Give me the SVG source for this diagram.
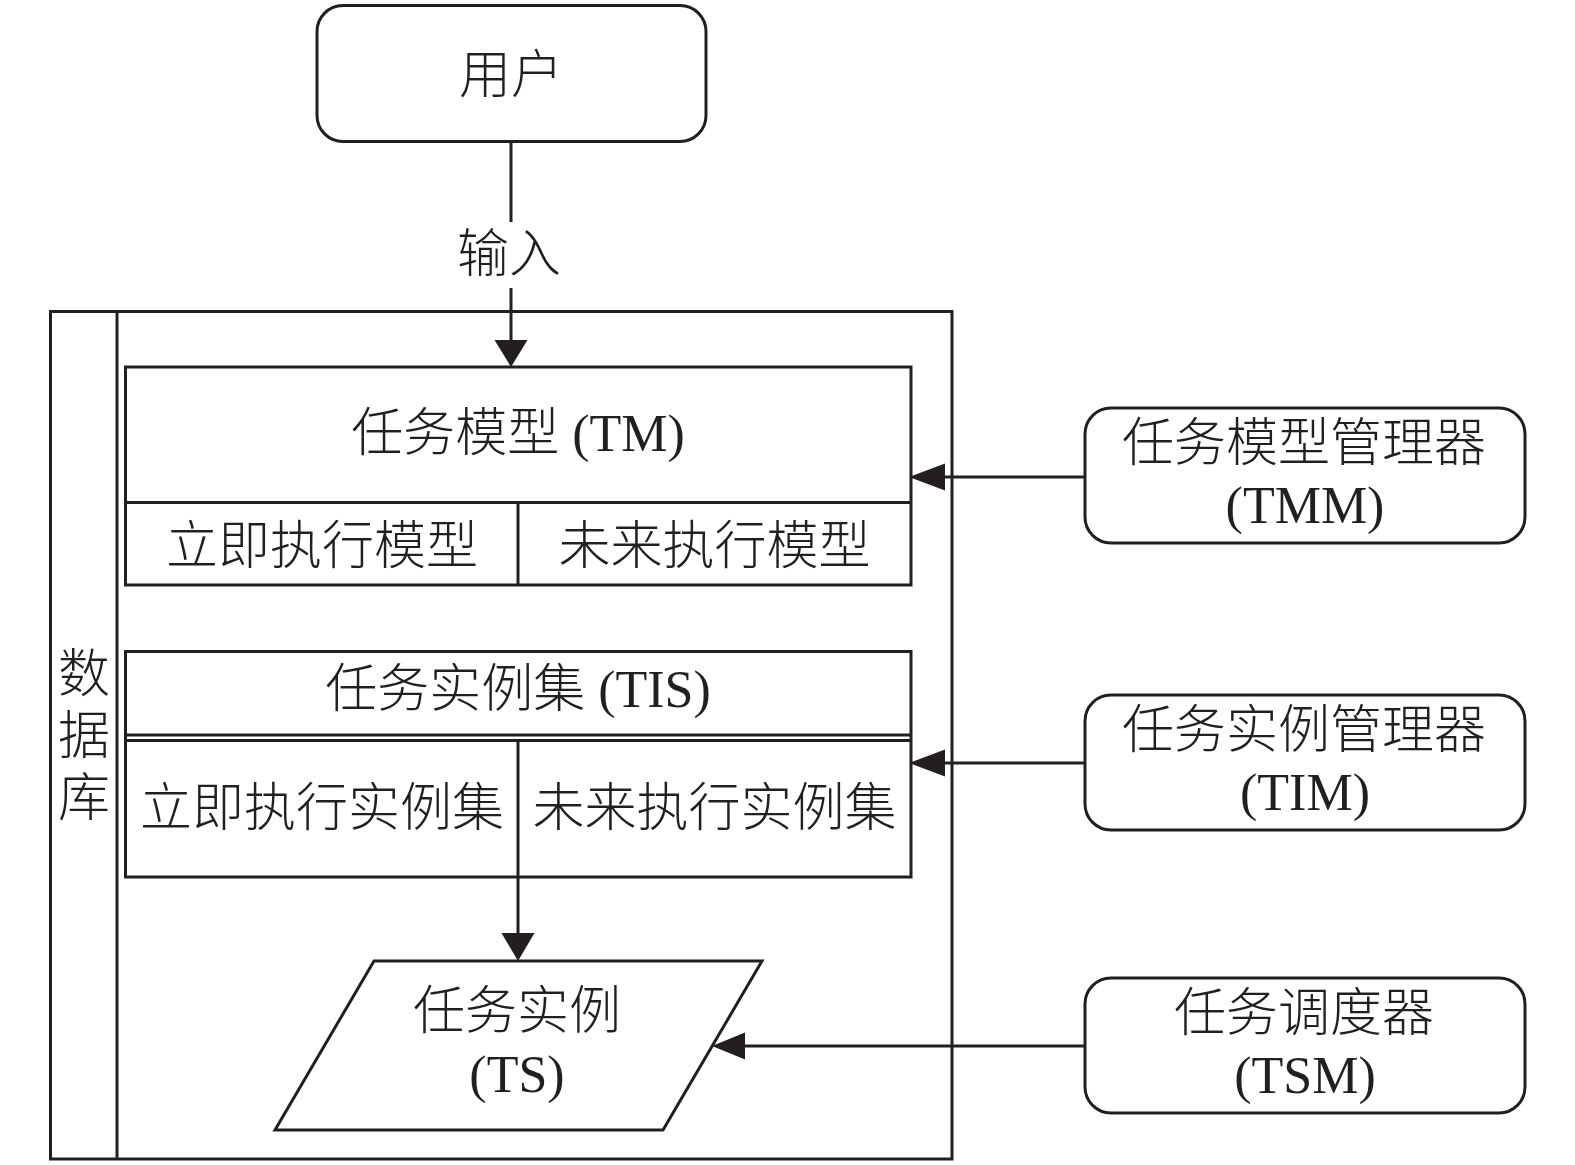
<svg xmlns="http://www.w3.org/2000/svg" width="1575" height="1165" viewBox="0 0 1575 1165">
<style>
.s{fill:none;stroke:#231f20;stroke-width:3}
.w{fill:#fff;stroke:#231f20;stroke-width:3}
.ah{fill:#231f20;stroke:none}
text{font-family:"Liberation Serif","Noto Sans CJK SC",serif;font-size:52px;fill:#231f20;text-anchor:middle;font-weight:300}
</style>
<rect width="1575" height="1165" fill="#fff"/>
<g id="database">
<rect class="s" x="50.5" y="311.5" width="901.5" height="847.5"/>
<line class="s" x1="117" y1="311.5" x2="117" y2="1159"/>
<text x="84" y="692">数</text>
<text x="84" y="754">据</text>
<text x="84" y="816">库</text>
</g>
<g id="user">
<rect class="s" x="317" y="5.5" width="389" height="136" rx="26"/>
<text x="511" y="93">用户</text>
</g>
<g id="tm">
<rect class="s" x="125.5" y="367" width="785.5" height="218"/>
<line class="s" x1="125.5" y1="502.5" x2="911" y2="502.5"/>
<line class="s" x1="518" y1="502.5" x2="518" y2="585"/>
<text x="518" y="451">任务模型 (TM)</text>
<text x="322" y="564">立即执行模型</text>
<text x="714.5" y="564">未来执行模型</text>
</g>
<g id="tis">
<rect class="s" x="125.5" y="651.5" width="785.5" height="225.5"/>
<line class="s" x1="125.5" y1="735" x2="911" y2="735"/>
<line class="s" x1="125.5" y1="740.5" x2="911" y2="740.5"/>
<text x="518" y="707">任务实例集 (TIS)</text>
<text x="322" y="826">立即执行实例集</text>
<text x="714.5" y="826">未来执行实例集</text>
</g>
<g id="ts">
<polygon class="w" points="374,961 762,961 663,1130 275,1130"/>
<text x="517" y="1029">任务实例</text>
<text x="517" y="1092">(TS)</text>
</g>
<g id="tmm">
<rect class="s" x="1085" y="408" width="440" height="135" rx="26"/>
<text x="1304" y="461">任务模型管理器</text>
<text x="1305" y="523">(TMM)</text>
</g>
<g id="tim">
<rect class="s" x="1085" y="695" width="440" height="135" rx="26"/>
<text x="1304" y="748">任务实例管理器</text>
<text x="1305" y="810">(TIM)</text>
</g>
<g id="tsm">
<rect class="s" x="1085" y="978" width="440" height="135" rx="26"/>
<text x="1304" y="1031">任务调度器</text>
<text x="1305" y="1093">(TSM)</text>
</g>
<g id="connectors">
<line class="s" x1="511" y1="141.5" x2="511" y2="222"/>
<text x="509" y="272">输入</text>
<line class="s" x1="511" y1="288" x2="511" y2="342"/>
<polygon class="ah" points="494.5,340 527.5,340 511,367"/>
<line class="s" x1="1085" y1="477" x2="943" y2="477"/>
<polygon class="ah" points="945,463.5 945,490.5 909,477"/>
<line class="s" x1="1085" y1="763" x2="943" y2="763"/>
<polygon class="ah" points="945,749.5 945,776.5 909,763"/>
<line class="s" x1="518" y1="740.5" x2="518" y2="935"/>
<polygon class="ah" points="501.5,933 534.5,933 518,961"/>
<line class="s" x1="1085" y1="1046" x2="743" y2="1046"/>
<polygon class="ah" points="745,1032.5 745,1059.5 712,1046"/>
</g>
</svg>
